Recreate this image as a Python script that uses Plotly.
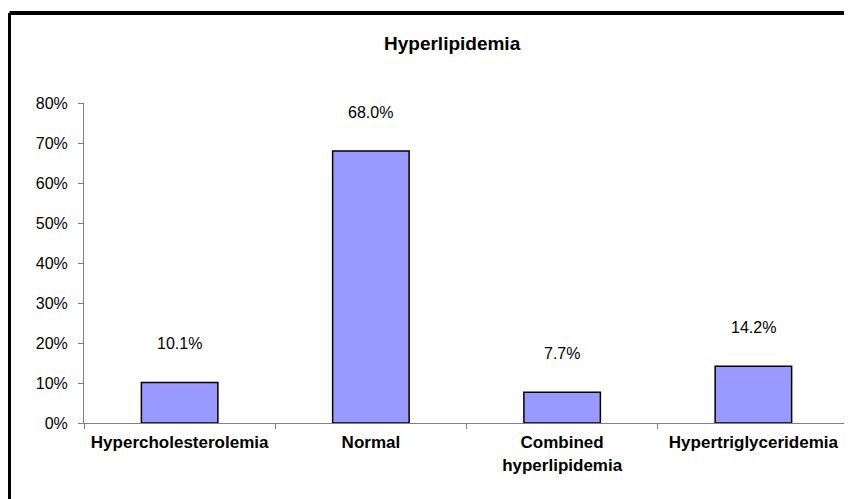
import plotly.graph_objects as go

categories = ["Hypercholesterolemia", "Normal", "Combined<br>hyperlipidemia", "Hypertriglyceridemia"]
values = [10.1, 68.0, 7.7, 14.2]
value_labels = ["10.1%", "68.0%", "7.7%", "14.2%"]
y_ticks = [0, 10, 20, 30, 40, 50, 60, 70, 80]
y_tick_labels = ["0%", "10%", "20%", "30%", "40%", "50%", "60%", "70%", "80%"]

# the page body has an 8px margin, so the figure is 8px smaller than the window
W, H = 844, 491
L, R, T, B = 76, 3, 95, 76
FONT = "Liberation Sans, Arial, sans-serif"


def px_to_paper(px, py):
    # figure pixels -> paper coords of the plot area
    return (px - L) / (W - L - R), (H - B - py) / (H - T - B)


fig = go.Figure()
fig.add_trace(go.Bar(
    x=categories,
    y=values,
    marker=dict(color="#9999FF", line=dict(color="black", width=1.5)),
    width=0.4,
    hoverinfo="skip",
))

# data labels above bars
for cat, v, lab in zip(categories, values, value_labels):
    fig.add_annotation(
        x=cat, y=v, text=lab, showarrow=False,
        yanchor="middle", yshift=39,
        font=dict(family=FONT, size=16, color="black"),
    )

# title
tx, ty = px_to_paper(444, 35)
fig.add_annotation(
    x=tx, y=ty, xref="paper", yref="paper", text="<b>Hyperlipidemia</b>",
    showarrow=False, xanchor="center", yanchor="middle",
    font=dict(family=FONT, size=19, color="black"),
)

# chart frame (only top and left edges are inside the picture)
x0, y0 = px_to_paper(1.5, 5)
x1, _ = px_to_paper(900, 0)
_, y1 = px_to_paper(0, 520)
fig.add_shape(type="line", xref="paper", yref="paper", x0=x0, y0=y0, x1=x1, y1=y0,
              line=dict(color="black", width=4))
fig.add_shape(type="line", xref="paper", yref="paper", x0=x0, y0=y0, x1=x0, y1=y1,
              line=dict(color="black", width=3))

fig.update_layout(
    width=W, height=H,
    margin=dict(l=L, r=R, t=T, b=B),
    plot_bgcolor="white", paper_bgcolor="white",
    showlegend=False,
    font=dict(family=FONT, color="black"),
    xaxis=dict(
        showline=True, linecolor="#808080", linewidth=1,
        ticks="outside", tickson="boundaries", ticklen=5, tickcolor="#808080",
        tickfont=dict(family=FONT, size=17, color="black", weight="bold"),
        ticklabelstandoff=4,
        showgrid=False, zeroline=False,
    ),
    yaxis=dict(
        range=[0, 80], tickvals=y_ticks, ticktext=y_tick_labels,
        showline=True, linecolor="#808080", linewidth=1,
        ticks="outside", ticklen=5, tickcolor="#808080",
        tickfont=dict(family=FONT, size=16, color="black"),
        ticklabelstandoff=7,
        showgrid=False, zeroline=False,
    ),
)

fig.write_html("out.html")
